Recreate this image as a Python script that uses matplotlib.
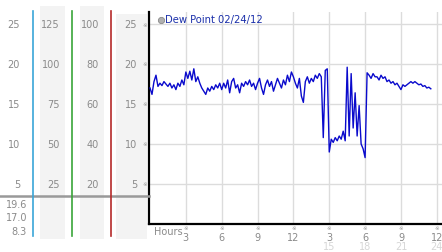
import numpy as np
import matplotlib
matplotlib.use("Agg")
import matplotlib.pyplot as plt
from matplotlib.lines import Line2D
from matplotlib.patches import Rectangle

# dew point readings, 10-minute steps from hour 0
dew_point = [
    17.0, 16.2, 17.8, 18.6, 17.2, 17.6,
    17.3, 17.8, 17.5, 17.2, 17.6, 17.0,
    17.4, 16.8, 17.6, 17.2, 18.0, 17.4,
    19.0, 18.2, 19.1, 18.0, 19.4, 17.8,
    18.4, 17.6, 17.0, 16.6, 16.2, 17.0,
    16.6, 17.2, 16.8, 17.4, 17.0, 17.6,
    16.8, 17.6, 17.0, 18.0, 16.4, 17.8,
    18.2, 17.0, 17.4, 16.4, 17.6, 17.2,
    17.8, 17.4, 18.0, 17.2, 17.6, 16.8,
    17.6, 18.2, 17.0, 16.2, 17.4, 18.0,
    17.2, 17.8, 16.6, 17.4, 18.2, 17.6,
    17.0, 18.0, 17.4, 18.6, 17.8, 19.0,
    18.4, 17.6, 17.0, 18.2, 16.0, 15.2,
    17.8, 18.4, 17.6, 18.2, 17.8, 18.6,
    18.2, 18.8, 18.4, 10.8, 19.2, 19.4,
    9.0, 10.6, 10.2, 10.8, 10.4, 11.0,
    10.6, 11.6, 10.4, 19.6, 11.0, 18.8,
    12.0, 16.4, 11.0, 14.8, 10.0, 9.4,
    8.3, 18.9, 18.6, 18.2, 18.8, 18.4,
    18.4, 18.0, 18.6, 18.2, 18.4, 17.8,
    18.0, 17.6, 17.8, 17.4, 17.6, 17.2,
    16.8, 17.4, 17.2, 17.4, 17.6, 17.8,
    17.6, 17.8, 17.6, 17.4, 17.5, 17.2,
    17.3, 17.0, 17.1, 16.9,
]
hours = np.arange(len(dew_point)) / 6.0

y_ticks = [25, 20, 15, 10, 5]
col1_labels = ["25", "20", "15", "10", "5"]
col2_labels = ["125", "100", "75", "50", "25"]
col3_labels = ["100", "80", "60", "40", "20"]
x_ticks = [3, 6, 9, 12, 15, 18, 21, 24]
x_labels = ["3", "6", "9", "12", "3", "6", "9", "12"]
x_labels_faint = ["15", "18", "21", "24"]
stats = ["19.6", "17.0", "8.3"]

W, H = 442, 253
fig = plt.figure(figsize=(W / 100, H / 100), dpi=100)


def fx(px):
    return px / W


def fy(py):
    return 1 - py / H


# left sidebar: stripes
for x0, x1, y0 in [(40, 65, 7), (80, 104, 7), (116, 147, 15)]:
    fig.add_artist(Rectangle((fx(x0), fy(240)), fx(x1) - fx(x0), fy(y0) - fy(240),
                             facecolor="#f3f3f3", edgecolor="none", zorder=0))

px_per_hour = 11.95
ax = fig.add_axes([fx(149), fy(225), fx(442) - fx(149), fy(13) - fy(225)])
ax.set_xlim(-1 / px_per_hour, 292 / px_per_hour)
ax.set_ylim(0, 26.5)
ax.plot(hours, dew_point, color="#0a0acc", lw=1.0, zorder=3)

ax.set_yticks(y_ticks)
ax.set_xticks(x_ticks)
ax.grid(True, color="#dcdcdc", lw=1.0)
ax.set_axisbelow(True)
for s in ["top", "right"]:
    ax.spines[s].set_visible(False)
for s in ["left", "bottom"]:
    ax.spines[s].set_linewidth(1.6)
    ax.spines[s].set_color("black")
ax.tick_params(length=0, labelleft=False, labelbottom=False)

txt = dict(fontsize=7, color="#8a8a8a", family="DejaVu Sans")
ytr = ax.get_yaxis_transform()
xa = lambda px: (px - 149) / 293
for i, v in enumerate(y_ticks):
    ax.text(xa(20), v, col1_labels[i], ha="right", va="center", transform=ytr, clip_on=False, **txt)
    ax.text(xa(60), v, col2_labels[i], ha="right", va="center", transform=ytr, clip_on=False, **txt)
    ax.text(xa(99), v, col3_labels[i], ha="right", va="center", transform=ytr, clip_on=False, **txt)
    ax.text(xa(137), v, str(v), ha="right", va="center", transform=ytr, clip_on=False, **txt)
    ax.text(xa(145), v, "\u203b", ha="center", va="center", transform=ytr, clip_on=False,
            fontsize=4, color="#999999")

xtr = ax.get_xaxis_transform()
ya = lambda py: (225 - py) / 212
for i, h in enumerate(x_ticks):
    ax.text(h, ya(229), "\u203b", ha="center", va="center", transform=xtr, clip_on=False,
            fontsize=4, color="#999999")
    ax.text(h, ya(238), x_labels[i], ha="center", va="center", transform=xtr, clip_on=False, **txt)
for i, h in enumerate(x_ticks[4:]):
    ax.text(h, ya(247), x_labels_faint[i], ha="center", va="center", transform=xtr,
            clip_on=False, fontsize=7, color="#d6d6d6")
ax.text(xa(154), ya(232), "Hours", ha="left", va="center", transform=ax.transAxes,
        clip_on=False, **txt)

# title with grey bullet
fig.add_artist(Line2D([fx(160.5)], [fy(20.5)], marker="o", ms=4.5, color="#b0b0b0",
                      markeredgecolor="#888888", mew=0.6))
fig.text(fx(165), fy(20.5), "Dew Point 02/24/12", ha="left", va="center", fontsize=7.2,
         color="#1a2faa", family="DejaVu Sans")

# sidebar lines
fig.add_artist(Line2D([0, fx(149)], [fy(197), fy(197)], color="#999999", lw=1.8))
for px, c in [(33, "#3aa6d8"), (72, "#3aa53a"), (111, "#b52a2a")]:
    fig.add_artist(Line2D([fx(px), fx(px)], [fy(12), fy(237)], color=c, lw=1.2))

for i, s in enumerate(stats):
    fig.text(fx(27), fy(205 + 13.5 * i), s, ha="right", va="center", **txt)

fig.savefig("out.png", dpi=100)
